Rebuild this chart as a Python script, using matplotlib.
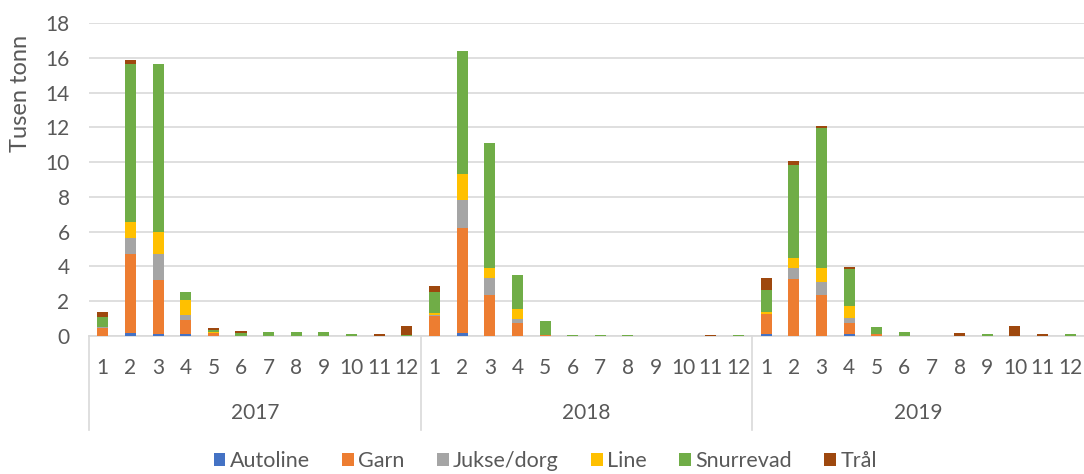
import numpy as np
import matplotlib.pyplot as plt
from matplotlib.transforms import blended_transform_factory

plt.rcParams['font.family'] = ['Lato', 'DejaVu Sans']

years = ['2017', '2018', '2019']
months = [str(m) for m in range(1, 13)]

# tusen tonn per måned, redskap for redskap (2017, 2018, 2019)
autoline = [0, 0.17, 0.10, 0.10, 0, 0, 0, 0, 0, 0, 0, 0,
            0, 0.15, 0, 0, 0, 0, 0, 0, 0, 0, 0, 0,
            0.10, 0, 0, 0.10, 0, 0, 0, 0, 0, 0, 0, 0]
garn = [0.48, 4.55, 3.11, 0.81, 0.17, 0, 0, 0, 0, 0, 0, 0,
        1.15, 6.05, 2.38, 0.73, 0.08, 0, 0, 0, 0, 0, 0, 0,
        1.17, 3.27, 2.38, 0.65, 0.10, 0, 0, 0, 0, 0, 0, 0]
jukse = [0.06, 0.90, 1.52, 0.29, 0, 0, 0, 0, 0, 0, 0, 0,
         0.06, 1.63, 0.94, 0.23, 0, 0, 0, 0, 0, 0, 0, 0,
         0, 0.63, 0.71, 0.29, 0, 0, 0, 0, 0, 0, 0, 0]
line = [0, 0.96, 1.27, 0.86, 0.08, 0, 0, 0, 0, 0, 0, 0,
        0.12, 1.48, 0.60, 0.60, 0, 0, 0, 0, 0, 0, 0, 0,
        0.13, 0.60, 0.83, 0.67, 0, 0, 0, 0, 0, 0, 0, 0]
snurrevad = [0.56, 9.07, 9.66, 0.46, 0.10, 0.17, 0.23, 0.23, 0.23, 0.10, 0, 0.06,
             1.19, 7.09, 7.17, 1.92, 0.81, 0.06, 0.06, 0.06, 0, 0, 0, 0.06,
             1.25, 5.34, 8.05, 2.13, 0.42, 0.23, 0, 0, 0.10, 0, 0, 0.10]
tral = [0.30, 0.25, 0, 0, 0.12, 0.13, 0, 0, 0, 0, 0.10, 0.54,
        0.37, 0, 0, 0, 0, 0, 0, 0, 0, 0, 0.06, 0,
        0.67, 0.23, 0.08, 0.10, 0, 0, 0, 0.17, 0, 0.60, 0.10, 0]

series = [('Autoline', autoline, '#4472C4'),
          ('Garn', garn, '#ED7D31'),
          ('Jukse/dorg', jukse, '#A5A5A5'),
          ('Line', line, '#FFC000'),
          ('Snurrevad', snurrevad, '#70AD47'),
          ('Trål', tral, '#9E480E')]

txt = '#595959'
fig = plt.figure(figsize=(10.84, 4.74), dpi=100)
ax = fig.add_axes([89 / 1084, 138 / 474, 995 / 1084, 313 / 474])

x = np.arange(len(years) * 12)
bottom = np.zeros(len(x))
for name, vals, col in series:
    vals = np.array(vals)
    ax.bar(x, vals, 0.4, bottom=bottom, color=col, label=name, zorder=3)
    bottom += vals

ax.set_xlim(-0.5, len(x) - 0.5)
ax.set_ylim(0, 18)
ax.set_yticks(range(0, 19, 2))
ax.yaxis.grid(True, color='#D9D9D9', lw=1.2, zorder=0)
for s in ['top', 'right', 'left']:
    ax.spines[s].set_visible(False)
ax.spines['bottom'].set_color('#D9D9D9')
ax.spines['bottom'].set_linewidth(1.2)
ax.tick_params(axis='y', length=0, labelsize=15, labelcolor=txt, pad=14)
ax.set_xticks(x)
ax.set_xticklabels(months * len(years))
ax.tick_params(axis='x', length=0, labelsize=15, labelcolor=txt, pad=16)
ax.set_ylabel('Tusen tonn', fontsize=17, color=txt)
ax.yaxis.set_label_coords(-0.058, 0.775)

# årsgrupper under månedene
tr = blended_transform_factory(ax.transData, ax.transAxes)
for i, yr in enumerate(years):
    ax.text(i * 12 + 5.5, -0.245, yr, transform=tr, ha='center', va='center',
            fontsize=15, color=txt)
for i in range(len(years)):
    ax.plot([i * 12 - 0.5] * 2, [0, -0.3], transform=tr, color='#D9D9D9',
            lw=1.2, clip_on=False)

fig.legend(loc='lower center', bbox_to_anchor=(0.503, -0.035), ncol=6,
           frameon=False, fontsize=15.5, labelcolor=txt, handlelength=0.55,
           handleheight=0.55, handletextpad=0.2, columnspacing=1.5)

fig.savefig('out.png', dpi=100)
